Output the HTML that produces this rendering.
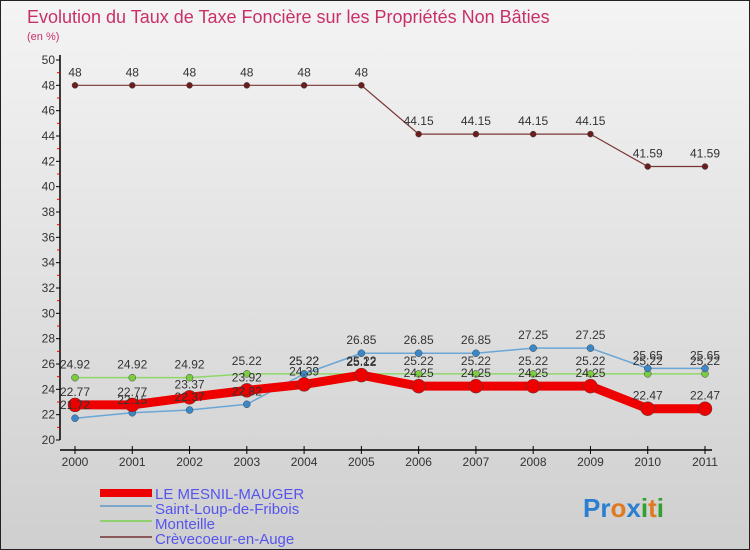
<!DOCTYPE html>
<html><head><meta charset="utf-8"><style>
body{margin:0;width:750px;height:550px;overflow:hidden;font-family:"Liberation Sans",sans-serif}
svg{display:block}
text{font-family:"Liberation Sans",sans-serif}
</style></head><body>
<svg id="chart" width="750" height="550" xmlns="http://www.w3.org/2000/svg">
<defs><linearGradient id="bg" x1="0" y1="0" x2="0" y2="1"><stop offset="0" stop-color="#f4f4f4"/><stop offset="1" stop-color="#cfcfcf"/></linearGradient></defs>
<rect x="0.5" y="0.5" width="749" height="549" fill="url(#bg)" stroke="#222"/>
<text x="27" y="23" font-size="18" fill="#c8306a">Evolution du Taux de Taxe Foncière sur les Propriétés Non Bâties</text>
<text x="27" y="40" font-size="11" fill="#c8306a">(en %)</text>
<g id="axes"></g><g id="series"></g><g id="labels"></g>
<g>
<rect x="100" y="489" width="52" height="8" fill="#ee0000"/>
<line x1="100" x2="152" y1="506" y2="506" stroke="#7aa6cc" stroke-width="2"/>
<line x1="100" x2="152" y1="521" y2="521" stroke="#8fd070" stroke-width="2"/>
<line x1="100" x2="152" y1="537" y2="537" stroke="#8a5a5a" stroke-width="2"/>
<text x="155" y="499" font-size="15" fill="#5555ee">LE MESNIL-MAUGER</text>
<text x="155" y="514" font-size="15" fill="#5555ee">Saint-Loup-de-Fribois</text>
<text x="155" y="529" font-size="15" fill="#5555ee">Monteille</text>
<text x="155" y="544" font-size="15" fill="#5555ee">Crèvecoeur-en-Auge</text>
</g>
<text x="583" y="517" font-size="26" font-weight="bold"><tspan fill="#2a7fd0">Pr</tspan><tspan fill="#e07a20">o</tspan><tspan fill="#2a7fd0">x</tspan><tspan fill="#30a030">i</tspan><tspan fill="#e07a20">t</tspan><tspan fill="#30a030">i</tspan></text>
</svg>
<script>
const years=["2000","2001","2002","2003","2004","2005","2006","2007","2008","2009","2010","2011"];
const mesnil=[22.77,22.77,23.37,23.92,24.39,25.12,24.25,24.25,24.25,24.25,22.47,22.47];
const stloup=[21.72,22.15,22.37,22.82,25.22,26.85,26.85,26.85,27.25,27.25,25.65,25.65];
const monteille=[24.92,24.92,24.92,25.22,25.22,25.22,25.22,25.22,25.22,25.22,25.22,25.22];
const crevecoeur=[48,48,48,48,48,48,44.15,44.15,44.15,44.15,41.59,41.59];
const yTicks=[20,22,24,26,28,30,32,34,36,38,40,42,44,46,48,50];
const NS="http://www.w3.org/2000/svg";
const xS=i=>75+i*(630/11);
const yS=v=>440-(v-20)*(380/30);
function mk(tag,attrs,parent,txt){const e=document.createElementNS(NS,tag);for(const k in attrs)e.setAttribute(k,attrs[k]);if(txt!==undefined)e.textContent=txt;parent.appendChild(e);return e;}
const ax=document.getElementById('axes');
let a=mk('line',{x1:60,x2:60,y1:55,y2:440,stroke:'#000','stroke-width':1.5},ax);


a=mk('line',{x1:60,x2:712,y1:450,y2:450,stroke:'#000','stroke-width':1.5},ax);


yTicks.forEach(v=>{
  mk('line',{x1:56,x2:60,y1:yS(v),y2:yS(v),stroke:'#000'},ax);
  if(v<50)mk('line',{x1:57,x2:60,y1:yS(v+1),y2:yS(v+1),stroke:'#e00'},ax);
  const t=mk('text',{x:55,y:yS(v)+4,'font-size':12,'text-anchor':'end',fill:'#333'},ax,String(v));
  
  
});
years.forEach((y,i)=>{
  mk('line',{x1:xS(i),x2:xS(i),y1:446,y2:454,stroke:'#000'},ax);
  const t=mk('text',{x:xS(i),y:466,'font-size':12,'text-anchor':'middle',fill:'#333'},ax,y);
  
  
});
const sg=document.getElementById('series'),lg=document.getElementById('labels');
function draw(vals,name,color,w,r,dot){
  const p=mk('polyline',{points:vals.map((v,i)=>xS(i)+','+yS(v)).join(' '),fill:'none',stroke:color,'stroke-width':w,'stroke-linejoin':'round'},sg);
  
  
  vals.forEach((v,i)=>{
    const c=mk('circle',{cx:xS(i),cy:yS(v),r:r,fill:dot,stroke:'#444','stroke-width':0.5},sg);
    
    
    const t=mk('text',{x:xS(i),y:yS(v)-9,'font-size':12,'text-anchor':'middle',fill:'#333'},lg,String(v));
    
    
  });
}
draw(crevecoeur,'crevecoeur','#7a3535',1.2,3,'#6a1e1e');
draw(monteille,'monteille','#8fd868',1.5,3.5,'#7ccc40');
draw(stloup,'saint-loup','#6aa6d6',1.5,3.5,'#3a88c8');
draw(mesnil,'le-mesnil-mauger','#ee0000',9,7,'#ee0000');
</script>
</body></html>
